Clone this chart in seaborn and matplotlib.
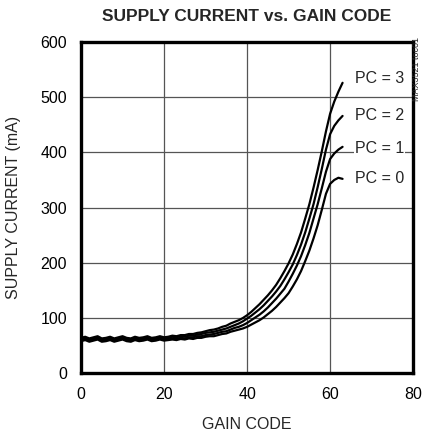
import matplotlib
import numpy as np
import pandas as pd
import seaborn as sns
import matplotlib.pyplot as plt

matplotlib.use("Agg")

TITLE = "SUPPLY CURRENT vs. GAIN CODE"
X_LABEL = "GAIN CODE"
Y_LABEL = "SUPPLY CURRENT (mA)"
NOTE = "MAX3521 toc01"

gain_code = list(range(64))

pc0 = [58, 60, 57, 59, 61, 57, 58, 60, 57, 59, 61, 58, 57, 60, 58, 59, 61, 58, 59, 61,
       59, 60, 61, 60, 62, 61, 63, 62, 64, 64, 66, 67, 67, 69, 71, 72, 75, 77, 79, 81,
       84, 88, 92, 96, 101, 107, 113, 120, 128, 136, 145, 157, 170, 185, 203, 222, 244,
       268, 296, 325, 343, 350, 354, 352]
pc1 = [60, 62, 59, 61, 63, 59, 60, 62, 59, 61, 63, 60, 59, 62, 60, 61, 63, 60, 61, 63,
       61, 62, 63, 62, 64, 63, 65, 65, 67, 67, 69, 70, 71, 73, 75, 76, 79, 82, 84, 87,
       91, 96, 101, 106, 112, 119, 127, 135, 144, 153, 166, 180, 195, 212, 232, 254, 280,
       306, 335, 365, 388, 398, 405, 410]
pc2 = [62, 64, 61, 63, 65, 61, 62, 64, 61, 63, 65, 62, 61, 64, 62, 63, 65, 62, 63, 65,
       63, 64, 66, 65, 67, 66, 68, 68, 70, 71, 73, 74, 75, 77, 79, 81, 84, 87, 90, 94,
       99, 104, 110, 116, 123, 131, 139, 148, 158, 170, 183, 197, 214, 233, 255, 280, 306,
       337, 370, 405, 433, 448, 458, 466]
pc3 = [64, 66, 63, 65, 67, 63, 64, 66, 63, 65, 67, 64, 63, 66, 64, 65, 67, 64, 65, 67,
       65, 66, 68, 67, 69, 69, 71, 71, 73, 74, 76, 78, 79, 81, 84, 86, 90, 93, 96, 100,
       105, 111, 118, 125, 133, 141, 150, 160, 172, 185, 199, 215, 234, 255, 280, 306, 336,
       368, 402, 438, 470, 492, 510, 526]

series_names = ["PC = 0", "PC = 1", "PC = 2", "PC = 3"]
label_y = [353, 407, 466, 534]

df = pd.concat(
    [
        pd.DataFrame({"code": gain_code, "current": vals, "pc": name})
        for name, vals in zip(series_names, [pc0, pc1, pc2, pc3])
    ]
)

sns.set_style("white")
plt.rcParams["font.family"] = ["Liberation Sans", "DejaVu Sans"]

fig = plt.figure(figsize=(4.22, 4.37), dpi=100)
ax = fig.add_axes([0.192, 0.146, 0.787, 0.758])

sns.lineplot(
    data=df, x="code", y="current", hue="pc",
    palette=["black"] * 4, linewidth=1.6, legend=False, ax=ax,
)

ax.set_xlim(0, 80)
ax.set_ylim(0, 600)
ax.set_xticks([0, 20, 40, 60, 80])
ax.set_yticks([0, 100, 200, 300, 400, 500, 600])
ax.grid(True, color="#555555", linewidth=0.9)
ax.tick_params(length=0, labelsize=11.5, pad=10, colors="black")
for s in ax.spines.values():
    s.set_linewidth(2.4)
    s.set_color("black")

ax.set_xlabel(X_LABEL, fontsize=11.5, labelpad=11)
ax.set_ylabel(Y_LABEL, fontsize=11.5, labelpad=14)
fig.suptitle(TITLE, fontsize=12.5, fontweight="bold", x=0.585, y=0.98)

for name, y in zip(series_names, label_y):
    ax.text(66, y, name, fontsize=11.5, va="center", ha="left",
            bbox=dict(facecolor="white", edgecolor="none", pad=0.5))

fig.text(0.987, 0.915, NOTE, fontsize=6.5, rotation=90, ha="center", va="top")

fig.savefig("out.png", dpi=100)
